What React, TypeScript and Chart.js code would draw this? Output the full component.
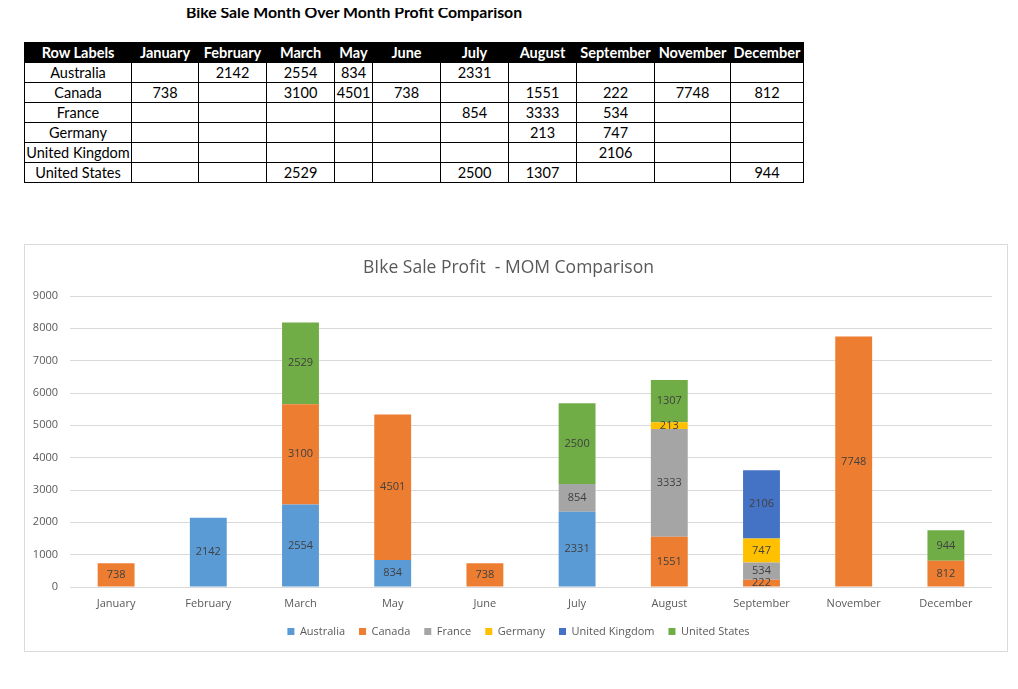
import React, { useEffect, useRef } from "react";
import { Chart, registerables } from "chart.js";

Chart.register(...registerables);

const pageTitle = "Bike Sale Month Over Month Profit Comparison";
const chartTitle = "BIke Sale Profit  - MOM Comparison";
const months = ["January", "February", "March", "May", "June", "July", "August", "September", "November", "December"];
const countries = ["Australia", "Canada", "France", "Germany", "United Kingdom", "United States"];

const australia = [null, 2142, 2554, 834, null, 2331, null, null, null, null];
const canada = [738, null, 3100, 4501, 738, null, 1551, 222, 7748, 812];
const france = [null, null, null, null, null, 854, 3333, 534, null, null];
const germany = [null, null, null, null, null, null, 213, 747, null, null];
const unitedKingdom = [null, null, null, null, null, null, null, 2106, null, null];
const unitedStates = [null, null, 2529, null, null, 2500, 1307, null, null, 944];

const seriesValues = [australia, canada, france, germany, unitedKingdom, unitedStates];
const seriesColors = ["#5B9BD5", "#ED7D31", "#A5A5A5", "#FFC000", "#4472C4", "#70AD47"];

const yTickMax = 9000;
const yTickStep = 1000;

const colWidths = [107, 67, 68, 68, 38, 68, 68, 68, 78, 76, 73];

const chartFont = "'Open Sans', 'DejaVu Sans', sans-serif";

const dataLabelPlugin = {
  id: "dataLabels",
  afterDatasetsDraw(chart: any) {
    const ctx = chart.ctx;
    ctx.save();
    ctx.font = `11px ${chartFont}`;
    ctx.fillStyle = "#404040";
    ctx.textAlign = "center";
    ctx.textBaseline = "middle";
    chart.data.datasets.forEach((ds: any, di: number) => {
      const meta = chart.getDatasetMeta(di);
      meta.data.forEach((el: any, i: number) => {
        const v = ds.data[i];
        if (v === null || v === undefined) return;
        const props = el.getProps(["x", "y", "base"], true);
        ctx.fillText(String(v), props.x, (props.y + props.base) / 2);
      });
    });
    ctx.restore();
  },
};

const legendShiftPlugin = {
  id: "legendShift",
  afterLayout(chart: any) {
    if (chart.legend) {
      chart.legend.left += 10;
      chart.legend.right += 10;
    }
  },
};

function BikeChart() {
  const ref = useRef<HTMLCanvasElement>(null);
  useEffect(() => {
    if (!ref.current) return;
    const chart = new Chart(ref.current, {
      type: "bar",
      data: {
        labels: months,
        datasets: countries.map((c, i) => ({
          label: c,
          data: seriesValues[i],
          backgroundColor: seriesColors[i],
          borderWidth: 0,
          barPercentage: 0.4,
          categoryPercentage: 1,
        })),
      },
      options: {
        animation: false,
        responsive: false,
        maintainAspectRatio: false,
        layout: { padding: { left: 0, right: 15, top: 0, bottom: 4 } },
        plugins: {
          title: {
            display: true,
            text: chartTitle,
            color: "#595959",
            font: { family: chartFont, size: 17.5, weight: "normal" },
            padding: { top: 13, bottom: 17 },
          },
          legend: {
            position: "bottom",
            labels: {
              boxWidth: 7,
              boxHeight: 7,
              padding: 14,
              color: "#595959",
              font: { family: chartFont, size: 11 },
            },
          },
          tooltip: { enabled: false },
        },
        scales: {
          x: {
            stacked: true,
            grid: { display: false, drawTicks: false },
            border: { display: false },
            ticks: { color: "#595959", font: { family: chartFont, size: 11 }, padding: 10 },
            afterFit: (s: any) => { s.height = 25; },
          },
          y: {
            stacked: true,
            min: 0,
            max: yTickMax,
            ticks: {
              stepSize: yTickStep,
              color: "#595959",
              font: { family: chartFont, size: 11 },
              padding: 12,
              callback: (v: any) => String(v),
            },
            grid: { color: "#d9d9d9", drawTicks: false },
            border: { display: false },
            afterFit: (s: any) => { s.width = 45; },
          },
        },
      },
      plugins: [dataLabelPlugin, legendShiftPlugin],
    });
    return () => chart.destroy();
  }, []);
  return <canvas ref={ref} width={982} height={406} style={{ display: "block" }} />;
}

export default function App() {
  const cell: React.CSSProperties = {
    border: "1px solid #000",
    padding: 0,
    height: 19,
    lineHeight: "18px",
    textAlign: "center",
    whiteSpace: "nowrap",
    overflow: "hidden",
  };
  const rows = countries.map((c, ci) => [c, ...seriesValues[ci].map((v) => (v === null ? "" : String(v)))]);
  return (
    <div style={{ position: "relative", width: 1002, height: 673, overflow: "hidden", fontFamily: "Lato, 'Open Sans', sans-serif" }}>
      <div
        style={{
          position: "absolute",
          left: 0,
          top: -6,
          width: 692,
          textAlign: "center",
          fontWeight: "bold",
          fontSize: 15.8,
          lineHeight: "20px",
          whiteSpace: "nowrap",
        }}
      >
        {pageTitle}
      </div>
      <table
        style={{
          position: "absolute",
          left: 16,
          top: 34,
          borderCollapse: "collapse",
          tableLayout: "fixed",
          fontSize: 14.5,
          color: "#000",
        }}
      >
        <colgroup>
          {colWidths.map((w, i) => (
            <col key={i} style={{ width: w }} />
          ))}
        </colgroup>
        <thead>
          <tr>
            {["Row Labels", ...months].map((h, i) => (
              <th key={i} style={{ ...cell, background: "#000", color: "#fff", fontWeight: "bold" }}>
                {h}
              </th>
            ))}
          </tr>
        </thead>
        <tbody>
          {rows.map((r, ri) => (
            <tr key={ri}>
              {r.map((v, i) => (
                <td key={i} style={cell}>
                  {v}
                </td>
              ))}
            </tr>
          ))}
        </tbody>
      </table>
      <div
        style={{
          position: "absolute",
          left: 16,
          top: 236,
          width: 982,
          height: 406,
          border: "1px solid #d9d9d9",
          background: "#fff",
        }}
      >
        <BikeChart />
      </div>
    </div>
  );
}
